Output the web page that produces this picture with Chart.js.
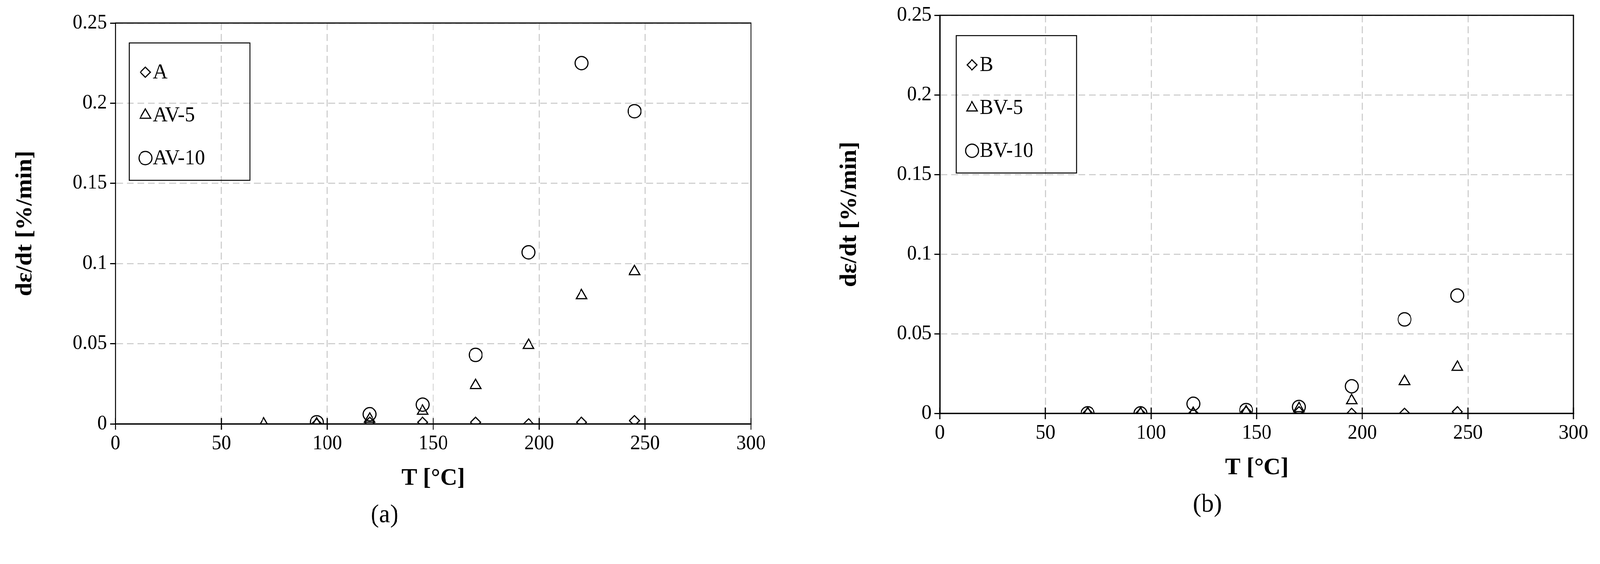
<!DOCTYPE html>
<html>
<head>
<meta charset="utf-8">
<script src="https://cdn.jsdelivr.net/npm/chart.js@4.4.1/dist/chart.umd.min.js"></script>
<style>
html, body { margin: 0; background: #fff; overflow: hidden; }
#page { width: 4227px; height: 1445px; position: relative; transform-origin: 0 0; }
.box { position: absolute; top: 0; height: 1445px; }
</style>
</head>
<body>
<div id="page">
<div class="box" style="left:0; width:2110px;"><canvas id="chartA"></canvas></div>
<div class="box" style="left:2178px; width:2049px;"><canvas id="chartB"></canvas></div>
</div>
<script>
// temperatures
var tempsA = [95, 120, 145, 170, 195, 220, 245];
var tempsAV5 = [70, 95, 120, 145, 170, 195, 220, 245];
var tempsB = [70, 95, 120, 145, 170, 195, 220, 245];

// creep rates (a)
var rateA = [0, 0.001, 0.001, 0.001, 0, 0.001, 0.002];
var rateAV5 = [0, 0, 0.003, 0.008, 0.024, 0.049, 0.080, 0.095];
var rateAV10 = [0.001, 0.006, 0.012, 0.043, 0.107, 0.225, 0.195];

// creep rates (b)
var rateB = [0, 0, 0, 0.001, 0.001, 0, 0, 0.001];
var rateBV5 = [0, 0, 0, 0.001, 0.003, 0.008, 0.020, 0.029];
var rateBV10 = [0, 0, 0.006, 0.002, 0.004, 0.017, 0.059, 0.074];

var xTicks = [0, 50, 100, 150, 200, 250, 300];
var yTicks = [0, 0.05, 0.1, 0.15, 0.2, 0.25];

var FONT = "'Liberation Serif', 'DejaVu Serif', serif";

// fit the fixed-size page into whatever viewport we get
var page = document.getElementById('page');
page.style.transform = 'scale(' + (window.innerWidth / 4227) + ',' + (window.innerHeight / 1445) + ')';

function pts(xs, ys) { return xs.map(function (x, i) { return { x: x, y: ys[i] }; }); }

function ds(label, xs, ys, style, r) {
    return {
        label: label, data: pts(xs, ys), pointStyle: style, pointRadius: r,
        pointBorderWidth: 3, borderColor: '#000', backgroundColor: 'rgba(0,0,0,0)',
        showLine: false
    };
}

// draws the frame, cross ticks on the x axis, legend box and titles
var decor = {
    id: 'decor',
    afterDraw: function (chart, args, o) {
        var c = chart.ctx, a = chart.chartArea, xs = chart.scales.x, ys = chart.scales.y;
        c.save();
        c.strokeStyle = '#000';
        c.lineWidth = 3;
        c.strokeRect(a.left, a.top, a.right - a.left, a.bottom - a.top);
        var y0 = ys.getPixelForValue(0);
        xTicks.forEach(function (t) {
            var px = xs.getPixelForValue(t);
            c.beginPath(); c.moveTo(px, y0 - 15); c.lineTo(px, y0 + 15); c.stroke();
        });
        // legend
        var lx = a.left + o.legX, ly = a.top + o.legY;
        c.lineWidth = 2.5;
        c.strokeRect(lx, ly, 318, 352);
        c.font = '54px ' + FONT;
        c.textBaseline = 'middle';
        chart.data.datasets.forEach(function (d, i) {
            var cy = ly + 75 + i * 110;
            c.lineWidth = 3;
            c.fillStyle = '#fff';
            c.strokeStyle = '#000';
            Chart.helpers.drawPoint(c, { pointStyle: d.pointStyle, radius: d.pointRadius, borderWidth: 3 }, lx + 42, cy);
            c.fillStyle = '#000';
            c.fillText(d.label, lx + 62, cy + 2);
        });
        // axis titles
        c.fillStyle = '#000';
        c.font = 'bold 62px ' + FONT;
        c.textAlign = 'center';
        c.fillText('T [°C]', (a.left + a.right) / 2, a.bottom + 140);
        c.save();
        c.translate(a.left - 238, (a.top + a.bottom) / 2);
        c.rotate(-Math.PI / 2);
        c.fillText('dε/dt [%/min]', 0, 0);
        c.restore();
        c.font = '66px ' + FONT;
        c.fillText(o.tag, o.tagX, o.tagY);
        c.restore();
    }
};

function makeChart(id, sets, opts) {
    return new Chart(document.getElementById(id).getContext('2d'), {
        type: 'scatter',
        data: { datasets: sets },
        plugins: [decor],
        options: {
            responsive: true, maintainAspectRatio: false, animation: false,
            devicePixelRatio: 1,
            layout: { padding: { top: opts.top, right: opts.right, left: 0, bottom: 0 } },
            plugins: { legend: { display: false }, tooltip: { enabled: false }, decor: opts },
            scales: {
                x: {
                    type: 'linear', min: 0, max: 300,
                    afterBuildTicks: function (s) { s.ticks = xTicks.map(function (v) { return { value: v }; }); },
                    afterFit: function (s) { s.height = 1445 - opts.bottom; },
                    grid: {
                        color: function (c) { return (c.tick && (c.tick.value === 0 || c.tick.value === 300)) ? 'rgba(0,0,0,0)' : '#d0d0d0'; },
                        lineWidth: 3, drawTicks: false
                    },
                    border: { display: true, color: '#000', width: 3, dash: [18, 10] },
                    ticks: { color: '#000', font: { family: FONT, size: 52 }, padding: 20 }
                },
                y: {
                    type: 'linear', min: 0, max: 0.25,
                    afterBuildTicks: function (s) { s.ticks = yTicks.map(function (v) { return { value: v }; }); },
                    afterFit: function (s) { s.width = opts.left; },
                    grid: {
                        color: function (c) { return (c.tick && c.tick.value === 0) ? '#000' : '#d0d0d0'; },
                        lineWidth: 3, tickLength: 14, tickColor: '#000'
                    },
                    border: { display: true, color: '#000', width: 3, dash: [18, 10] },
                    ticks: { color: '#000', font: { family: FONT, size: 52 }, padding: 8,
                        callback: function (v) { return String(Math.round(v * 100) / 100); } }
                }
            }
        }
    });
}

makeChart('chartA', [
    ds('A', tempsA, rateA, 'rectRot', 13),
    ds('AV-5', tempsAV5, rateAV5, 'triangle', 16),
    ds('AV-10', tempsA, rateAV10, 'circle', 17)
], { top: 59, right: 126, left: 305, bottom: 1086, legX: 37, legY: 51, tag: '(a)', tagX: 1016, tagY: 1321 });

makeChart('chartB', [
    ds('B', tempsB, rateB, 'rectRot', 13),
    ds('BV-5', tempsB, rateBV5, 'triangle', 16),
    ds('BV-10', tempsB, rateBV10, 'circle', 17)
], { top: 32, right: 2049 - (4157 - 2178), left: 2483 - 2178, bottom: 1059, legX: 43, legY: 52, tag: '(b)', tagX: 3190 - 2178, tagY: 1294 });
</script>
</body>
</html>
